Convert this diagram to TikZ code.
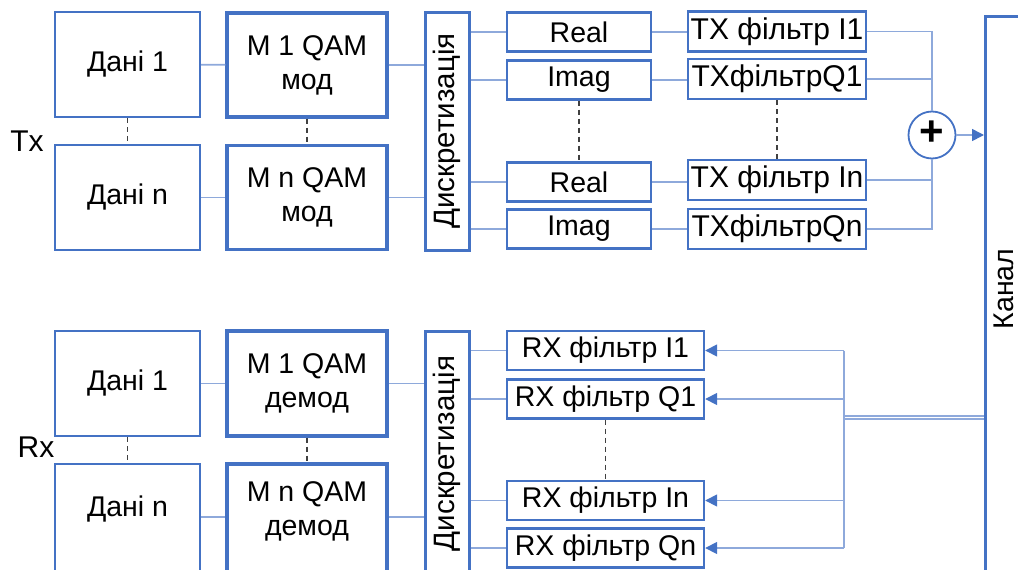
\documentclass[tikz,border=0pt]{standalone}
\usepackage{fontspec}
\setmainfont{Liberation Sans}
\usetikzlibrary{arrows.meta}
\definecolor{boxblue}{HTML}{4472C4}
\definecolor{lineblue}{HTML}{8EA9DB}
\definecolor{dashgray}{HTML}{404040}
\begin{document}
\begin{tikzpicture}[x=1pt,y=-1pt,
  every node/.style={font=\fontsize{28.5}{34}\selectfont, inner sep=0pt, align=center},
  databox/.style={draw=boxblue, line width=2pt, minimum width=145pt, minimum height=105pt},
  qambox/.style={draw=boxblue, line width=3.4pt, minimum width=160pt, minimum height=104pt},
  disbox/.style={draw=boxblue, line width=3pt, minimum width=44pt},
  smallbox/.style={draw=boxblue, line width=2.4pt, minimum width=144pt, minimum height=39pt},
  filtbox/.style={draw=boxblue, line width=2.4pt, minimum width=178pt, minimum height=40pt, font=\fontsize{30}{34}\selectfont},
  rxbox/.style={draw=boxblue, line width=2.4pt, minimum width=197pt, minimum height=39pt},
  conn/.style={draw=lineblue, line width=1.6pt},
  arr/.style={conn, -{Triangle[width=12pt,length=12pt,color=boxblue]}},
  dotconn/.style={draw=dashgray, line width=1.4pt, dash pattern=on 5pt off 4pt}
]
\useasboundingbox (0,0) rectangle (1018,570);

% ---------- Tx ----------
\node[databox] (td1) at (127.5,64.5) {Дані 1};
\node[databox] (tdn) at (127.5,197.5) {Дані n};
\node[qambox] (tm1) at (307,65) {M 1 QAM\\мод};
\node[qambox] (tmn) at (307,197.5) {M n QAM\\мод};
\node[disbox, minimum height=238pt] (tdis) at (447,131) {\rotatebox{90}{\fontsize{29.5}{30}\selectfont Дискретизація}};
\node[smallbox] (tr1) at (579,32) {Real};
\node[smallbox] (ti1) at (579,80) {Imag};
\node[smallbox] (trn) at (579,182) {Real};
\node[smallbox] (tin) at (579,229) {Imag};
\node[filtbox] (tf1) at (777,31.5) {TX фільтр I1};
\node[filtbox] (tfq1) at (777,79) {TXфільтрQ1};
\node[filtbox] (tfin) at (777,180) {TX фільтр In};
\node[filtbox] (tfqn) at (777,229) {TXфільтрQn};
\node[draw=boxblue, line width=1.8pt, circle, minimum size=47pt] (plus) at (932,135) {};
\node (plussign) at (932,133) {\fontsize{42}{42}\selectfont\textbf{+}};
\node[draw=boxblue, line width=3pt, minimum width=60pt, minimum height=565pt, anchor=north west] (chan) at (984,15) {};
\node[rotate=90] (chanlbl) at (1004,289) {Канал};
\node[font=\fontsize{30}{30}\selectfont] (txl) at (27,141) {Tx};

\draw[conn] (td1) -- (tm1);
\draw[conn] (tdn) -- (tmn);
\draw[conn] (tm1.east) -- (tm1.east -| tdis.west);
\draw[conn] (tmn.east) -- (tmn.east -| tdis.west);
\draw[conn] (tr1.west -| tdis.east) -- (tr1.west);
\draw[conn] (ti1.west -| tdis.east) -- (ti1.west);
\draw[conn] (trn.west -| tdis.east) -- (trn.west);
\draw[conn] (tin.west -| tdis.east) -- (tin.west);
\draw[conn] (tr1) -- (tf1.west |- tr1);
\draw[conn] (ti1) -- (tfq1.west |- ti1);
\draw[conn] (trn) -- (tfin.west |- trn);
\draw[conn] (tin) -- (tfqn.west |- tin);
\draw[conn] (tf1.east) -| (plus.north);
\draw[conn] (tfq1.east) -- (tfq1.east -| plus.north);
\draw[conn] (tfqn.east) -| (plus.south);
\draw[conn] (tfin.east) -- (tfin.east -| plus.south);
\draw[arr] (plus.east) -- (plus.east -| chan.west);
\draw[dotconn] (td1) -- (tdn);
\draw[dotconn] (tm1) -- (tmn);
\draw[dotconn] (ti1) -- (trn);
\draw[dotconn] (tfq1) -- (tfin);

% ---------- Rx ----------
\node[databox] (bd1) at (127.5,383.5) {Дані 1};
\node[databox, minimum height=110pt] (bdn) at (127.5,519) {};
\node (bdnt) at (127.5,509) {Дані n};
\node[qambox, minimum height=105pt] (bm1) at (307,383.5) {M 1 QAM\\демод};
\node[qambox, minimum height=110pt] (bmn) at (307,519) {};
\node (bmnt) at (307,511) {M n QAM\\демод};
\node[disbox, minimum height=245pt] (bdis) at (447,453.5) {\rotatebox{90}{\fontsize{29.5}{30}\selectfont Дискретизація}};
\node[rxbox] (rf1) at (605.5,350.5) {RX фільтр I1};
\node[rxbox] (rfq1) at (605.5,399) {RX фільтр Q1};
\node[rxbox] (rfin) at (605.5,500.5) {RX фільтр In};
\node[rxbox] (rfqn) at (605.5,548) {RX фільтр Qn};
\node[font=\fontsize{30}{30}\selectfont] (rxl) at (36,447) {Rx};
\coordinate (split) at (844,417.5);
\coordinate (lvl) at (0,517);

\draw[conn] (bd1) -- (bm1);
\draw[conn] (bdn.east |- lvl) -- (bmn.west |- lvl);
\draw[conn] (bm1.east) -- (bm1.east -| bdis.west);
\draw[conn] (bmn.east |- lvl) -- (bdis.west |- lvl);
\draw[conn] (rf1.west -| bdis.east) -- (rf1.west);
\draw[conn] (rfq1.west -| bdis.east) -- (rfq1.west);
\draw[conn] (rfin.west -| bdis.east) -- (rfin.west);
\draw[conn] (rfqn.west -| bdis.east) -- (rfqn.west);
\draw[conn] (split |- rf1.east) -- (split |- rfqn.east);
\draw[arr] (split |- rf1.east) -- (rf1.east);
\draw[arr] (split |- rfq1.east) -- (rfq1.east);
\draw[arr] (split |- rfin.east) -- (rfin.east);
\draw[arr] (split |- rfqn.east) -- (rfqn.east);
\draw[conn, line width=1.3pt] ([yshift=-1.6pt]split) -- ([yshift=-1.6pt]split -| chan.west);
\draw[conn, line width=1.3pt] ([yshift=1.6pt]split) -- ([yshift=1.6pt]split -| chan.west);
\draw[dotconn] (bd1) -- (bdn);
\draw[dotconn] (bm1) -- (bmn);
\draw[dotconn] (rfq1) -- (rfin);
\end{tikzpicture}
\end{document}
